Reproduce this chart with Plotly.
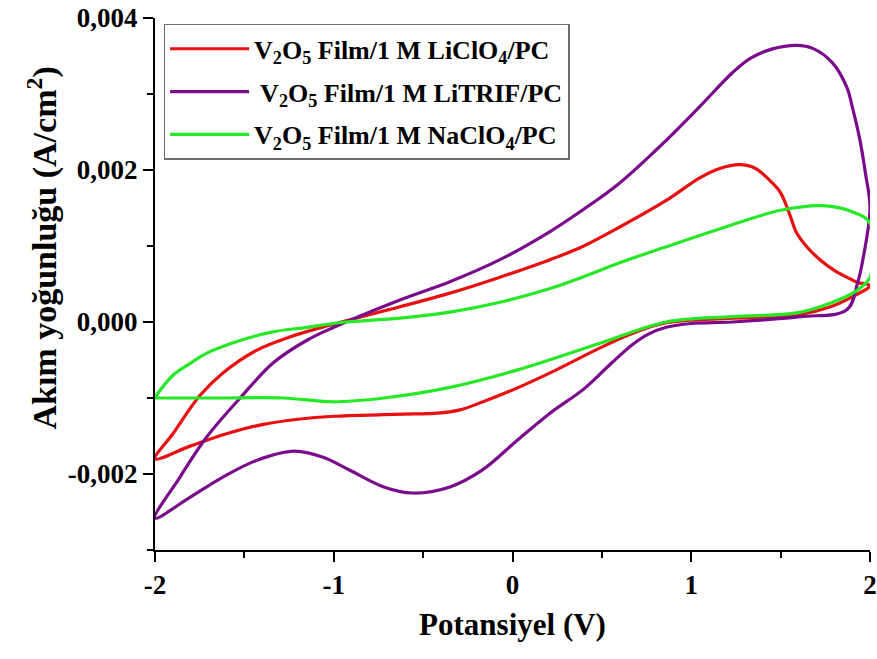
import plotly.graph_objects as go

# Cyclic voltammograms of V2O5 films in three electrolytes.
# Each loop: anodic sweep -2 V -> 2 V, then cathodic sweep back to -2 V.
# Potential in V, current density in A/cm^2.

licl_v = [-2.00, -1.90, -1.75, -1.62, -1.43, -1.25, -1.02, -0.63, -0.35, -0.07,
          0.21, 0.39, 0.60, 0.86, 1.05, 1.16, 1.27, 1.36, 1.44, 1.50, 1.55, 1.59,
          1.65, 1.72, 1.80, 1.87, 1.93, 2.00,
          1.90, 1.78, 1.59, 1.23, 0.86, 0.67, 0.49, 0.21, 0.025, -0.165, -0.30,
          -0.42, -0.55, -0.72, -1.00, -1.20, -1.40, -1.60, -1.80, -2.00]
licl_i = [-0.00180, -0.00147, -0.00097, -0.00067, -0.00037, -0.00020, -0.00004,
          0.00020, 0.00038, 0.00059, 0.00082, 0.00099, 0.00125, 0.00160, 0.00190,
          0.00202, 0.00207, 0.00202, 0.00186, 0.00170, 0.00142, 0.00117,
          0.00098, 0.00082, 0.00068, 0.00059, 0.00052, 0.00048,
          0.00033, 0.00020, 0.00009, 0.00005, -0.00001, -0.00015, -0.00034,
          -0.00067, -0.00087, -0.00105, -0.00116, -0.00120, -0.00121, -0.00122,
          -0.00124, -0.00128, -0.00135, -0.00147, -0.00163, -0.00180]

litrif_v = [-2.00, -1.86, -1.71, -1.52, -1.34, -1.15, -1.00, -0.63, -0.35, -0.07,
            0.21, 0.39, 0.60, 0.86, 1.05, 1.23, 1.33, 1.45, 1.59, 1.68, 1.79,
            1.87, 1.905, 1.944, 1.975, 2.00,
            1.96, 1.93, 1.87, 1.61, 1.23, 1.00, 0.86, 0.76, 0.67, 0.55, 0.40,
            0.21, 0.03, -0.17, -0.35, -0.56, -0.72, -0.91, -1.06, -1.22, -1.43,
            -1.62, -1.80, -2.00]
litrif_i = [-0.00258, -0.00204, -0.00151, -0.00099, -0.00054, -0.00024, -0.00007,
            0.00029, 0.00053, 0.00082, 0.00119, 0.00147, 0.00183, 0.00239, 0.00284,
            0.00328, 0.00347, 0.00359, 0.00364, 0.00360, 0.00341, 0.00309, 0.00279,
            0.00239, 0.00195, 0.00150,
            0.00082, 0.00051, 0.00016, 0.00007, 0.00000, -0.00002, -0.00007,
            -0.00016, -0.00030, -0.00055, -0.00088, -0.00120, -0.00155, -0.00195,
            -0.00217, -0.00225, -0.00217, -0.00195, -0.00178, -0.00170, -0.00182,
            -0.00204, -0.00230, -0.00258]

nacl_v = [-2.00, -1.90, -1.80, -1.71, -1.52, -1.34, -1.15, -0.97, -0.63, -0.35,
          -0.07, 0.21, 0.39, 0.60, 0.86, 1.23, 1.50, 1.74, 1.90, 2.00,
          2.00, 1.93, 1.78, 1.59, 1.23, 0.86, 0.49, 0.03, -0.35, -0.72, -1.00,
          -1.28, -1.65, -2.00]
nacl_i = [-0.00099, -0.00070, -0.00054, -0.00041, -0.00024, -0.00013, -0.00007,
          -0.00001, 0.00005, 0.00013, 0.00026, 0.00044, 0.00059, 0.00078, 0.00099,
          0.00128, 0.00147, 0.00153, 0.00145, 0.00130,
          0.00059, 0.00042, 0.00025, 0.00012, 0.00007, 0.00000, -0.00028,
          -0.00063, -0.00086, -0.00100, -0.00105, -0.00100, -0.00100, -0.00100]

series_names = ["V<sub>2</sub>O<sub>5</sub> Film/1 M LiClO<sub>4</sub>/PC",
                " V<sub>2</sub>O<sub>5</sub> Film/1 M LiTRIF/PC",
                "V<sub>2</sub>O<sub>5</sub> Film/1 M NaClO<sub>4</sub>/PC"]
series_colors = ["rgb(232,16,16)", "rgb(122,12,140)", "rgb(38,232,38)"]

x_tickvals = [-2, -1, 0, 1, 2]
x_ticktext = ["-2", "-1", "0", "1", "2"]
y_tickvals = [-0.002, 0.0, 0.002, 0.004]
y_ticktext = ["-0,002", "0,000", "0,002", "0,004"]

FONT = "Liberation Serif, Times New Roman, serif"

fig = go.Figure()
for k, (xs, ys, name, color) in enumerate(zip([licl_v, litrif_v, nacl_v],
                                              [licl_i, litrif_i, nacl_i],
                                              series_names, series_colors)):
    fig.add_trace(go.Scatter(
        x=xs, y=ys, mode="lines", name=name, legendgroup=f"g{k}",
        line=dict(color=color, width=3.2, shape="spline", smoothing=1.0),
    ))

axis_common = dict(
    showline=True, linecolor="black", linewidth=2,
    ticks="outside", ticklen=10, tickwidth=2, tickcolor="black",
    showgrid=False, zeroline=False, mirror=False, automargin=False,
    tickfont=dict(family=FONT, size=27, color="black", weight="bold"),
)

fig.update_xaxes(
    range=[-2, 2], tickmode="array", tickvals=x_tickvals, ticktext=x_ticktext,
    minor=dict(ticks="outside", ticklen=6, tickwidth=2, tickcolor="black",
               tick0=-2, dtick=0.5),
    title=dict(text="Potansiyel (V)", standoff=14,
               font=dict(family=FONT, size=31, color="black", weight="bold")),
    **axis_common,
)
fig.update_yaxes(
    range=[-0.003, 0.004], tickmode="array", tickvals=y_tickvals, ticktext=y_ticktext,
    minor=dict(ticks="outside", ticklen=6, tickwidth=2, tickcolor="black",
               tick0=-0.003, dtick=0.001),
    **axis_common,
)

# y-axis title placed as a rotated annotation, centred a little above mid-axis
fig.add_annotation(
    text="Akım yoğunluğu (A/cm<sup>2</sup>)", textangle=-90,
    xref="paper", yref="paper", x=-0.157, y=0.568,
    xanchor="center", yanchor="middle", showarrow=False,
    font=dict(family=FONT, size=34, color="black", weight="bold"),
)

fig.update_layout(
    width=877, height=659,
    margin=dict(l=155, r=7, t=18, b=109),
    paper_bgcolor="white", plot_bgcolor="white",
    showlegend=True,
    legend=dict(
        x=0.012, y=0.989, xanchor="left", yanchor="top",
        bgcolor="white", bordercolor="rgb(110,110,110)", borderwidth=1.5,
        font=dict(family=FONT, size=26, color="black", weight="bold"),
        tracegroupgap=6, itemwidth=79,
    ),
)

fig.write_html("out.html")
